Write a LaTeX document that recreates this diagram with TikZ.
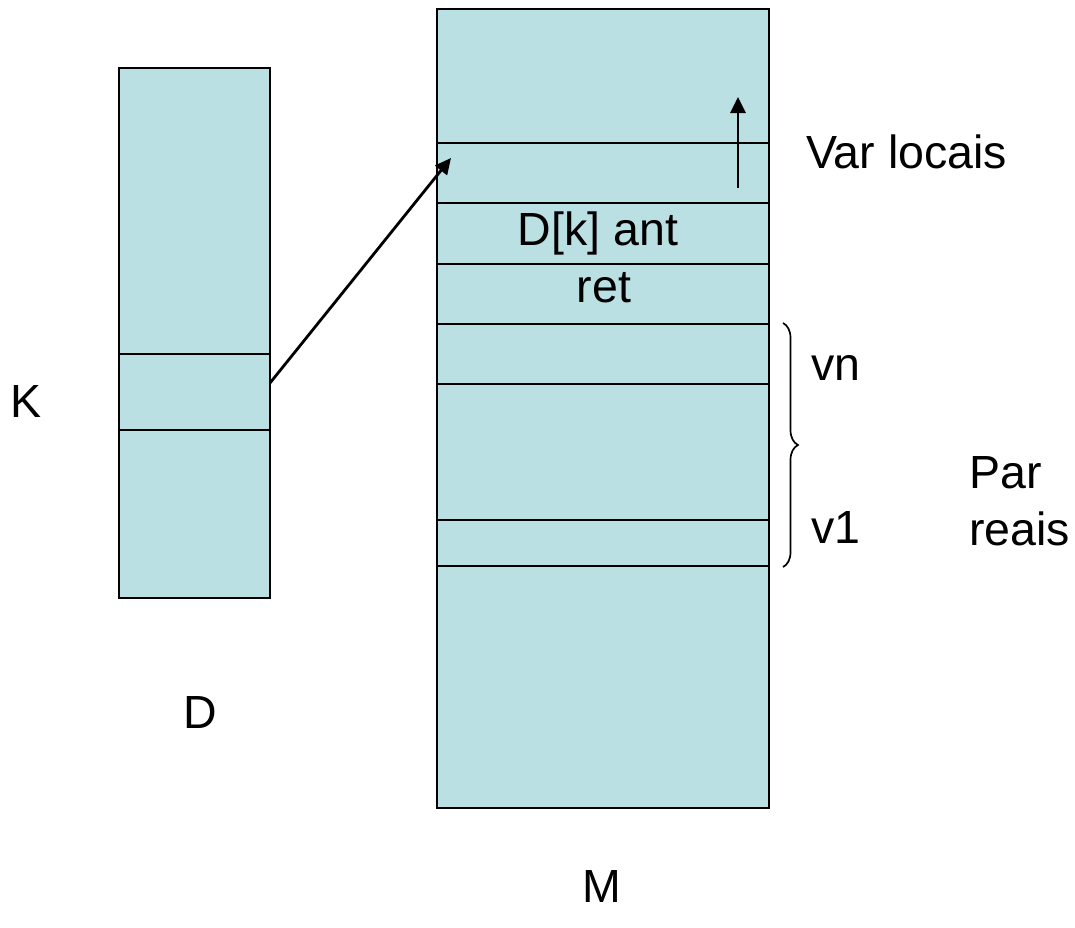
\documentclass[tikz,border=0pt]{standalone}
\usepackage{fontspec}
\setmainfont{Liberation Sans}
\usetikzlibrary{decorations.pathreplacing,arrows.meta}
\definecolor{cellfill}{HTML}{BBE0E3}
\begin{document}
\begin{tikzpicture}[x=1pt,y=-1pt,
  lbl/.style={font=\fontsize{46.5}{54}\selectfont, inner sep=0pt},
  colbox/.style={draw=black, fill=cellfill, line width=1.8pt, inner sep=0pt, anchor=north west},
  sep/.style={line width=1.8pt},
  arr/.style={line width=2.8pt, -{Triangle[length=16pt,width=15pt]}}]
\useasboundingbox (0,0) rectangle (1075,927);
% D column
\node[colbox, minimum width=151pt, minimum height=530pt] (D) at (118,67) {};
\draw[sep] (118,354) -- (269,354);
\draw[sep] (118,430) -- (269,430);
% M column
\node[colbox, minimum width=332pt, minimum height=799pt] (M) at (436,8) {};
\foreach \yy in {143,203,264,324,384,520,566}
  \draw[sep] (436,\yy) -- (768,\yy);
% arrows
\coordinate (ks) at (270,383);
\coordinate (ke) at (451,158);
\draw[arr] (ks) -- (ke);
\coordinate (us) at (738,188);
\coordinate (ue) at (738,97);
\draw[arr] (us) -- (ue);
% brace
\coordinate (bt) at (783,323);
\coordinate (bb) at (783,567);
\draw[line width=1.7pt, decorate, decoration={brace, amplitude=15pt}] (bt) -- (bb);
% labels
\node[lbl, anchor=base west] (varl) at (806,168) {Var locais};
\node[lbl, anchor=base] (dk) at (598,245) {D[k] ant};
\node[lbl, anchor=base] (ret) at (604,302) {ret};
\node[lbl, anchor=base west] (vn) at (811,380) {vn};
\node[lbl, anchor=base west] (v1) at (811,543) {v1};
\node[lbl, anchor=base west] (par) at (969,488) {Par};
\node[lbl, anchor=base west] (reais) at (969,545) {reais};
\node[lbl, anchor=base west] (klbl) at (10,417) {K};
\node[lbl, anchor=base] (dlbl) at (200,728) {D};
\node[lbl, anchor=base] (mlbl) at (602,902) {M};
\end{tikzpicture}
\end{document}
